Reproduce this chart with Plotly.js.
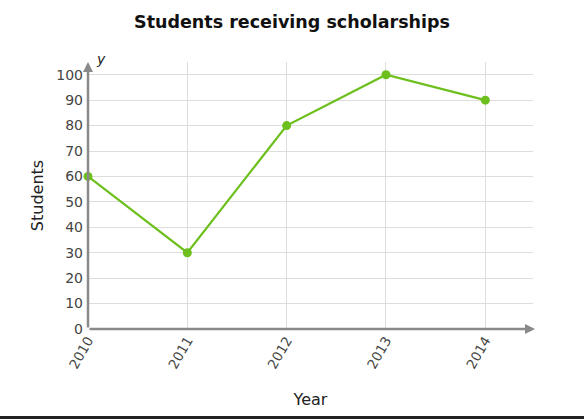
<!DOCTYPE html>
<html><head><meta charset="utf-8">
<script src="https://cdn.plot.ly/plotly-3.0.1.min.js"></script>
<style>html,body{margin:0;padding:0;background:#fff;overflow:hidden}
#chart{width:584px;height:416px;border-bottom:3px solid #222}</style>
</head><body><div id="chart"></div>
<script>
const years = [2010, 2011, 2012, 2013, 2014];
const students = [60, 30, 80, 100, 90];
const yTicks = [0,10,20,30,40,50,60,70,80,90,100];

const axisColor = '#8a8a8a';
const trace = {
  x: years, y: students, type: 'scatter', mode: 'lines+markers',
  line: {color: '#6cbf1c', width: 2.2},
  marker: {color: '#6cbf1c', size: 9},
  cliponaxis: false, hoverinfo: 'none'
};
const layout = {
  width: 584, height: 416,
  margin: {l: 88, r: 51, t: 62, b: 87},
  paper_bgcolor: '#fff', plot_bgcolor: '#fff',
  font: {family: 'DejaVu Sans, Verdana, sans-serif', color: '#444', size: 13},
  title: {text: '<b>Students receiving scholarships</b>', x: 0.5, xanchor: 'center', y: 0.947, yanchor: 'middle',
          font: {family: 'DejaVu Sans, Verdana, sans-serif', size: 17.5, color: '#111'}},
  showlegend: false,
  xaxis: {
    range: [2010, 2014.48], tickvals: years, ticktext: years.map(String),
    tickangle: -60, showgrid: true, gridcolor: '#dddddd', gridwidth: 1,
    zeroline: false, showline: false, ticks: '', tickfont: {size: 13.5, color: '#444'},
    title: {text: 'Year', font: {size: 16, color: '#222'}, standoff: 23}, fixedrange: true
  },
  yaxis: {
    range: [0, 105], tickvals: yTicks, showgrid: true, gridcolor: '#dddddd', gridwidth: 1,
    zeroline: false, showline: false, ticks: '', tickfont: {size: 14, color: '#444'},
    ticklabelstandoff: 4,
    title: {text: 'Students', font: {size: 16, color: '#222'}, standoff: 8}, fixedrange: true
  },
  annotations: [
    {x: 2014.5, y: 0, ax: 2010, ay: 0, xref: 'x', yref: 'y', axref: 'x', ayref: 'y', text: '', showarrow: true,
     arrowhead: 2, arrowsize: 0.8, arrowwidth: 2.5, arrowcolor: axisColor, standoff: 0, startstandoff: 0},
    {x: 2010, y: 105, ax: 2010, ay: 0, xref: 'x', yref: 'y', axref: 'x', ayref: 'y', text: '', showarrow: true,
     arrowhead: 2, arrowsize: 0.8, arrowwidth: 2.5, arrowcolor: axisColor, standoff: 0, startstandoff: 0},
    {x: 2014.5, y: 0, xref: 'x', yref: 'y', text: '<i>x</i>', showarrow: false, xanchor: 'center', yanchor: 'bottom', xshift: 0, yshift: 6, font: {size: 14, color: '#222'}},
    {x: 2010, y: 105, xref: 'x', yref: 'y', text: '<i>y</i>', showarrow: false, xanchor: 'left', yanchor: 'bottom', xshift: 6, yshift: -7, font: {size: 14, color: '#222'}}
  ]
};
Plotly.newPlot('chart', [trace], layout, {displayModeBar: false, staticPlot: true});
</script></body></html>
